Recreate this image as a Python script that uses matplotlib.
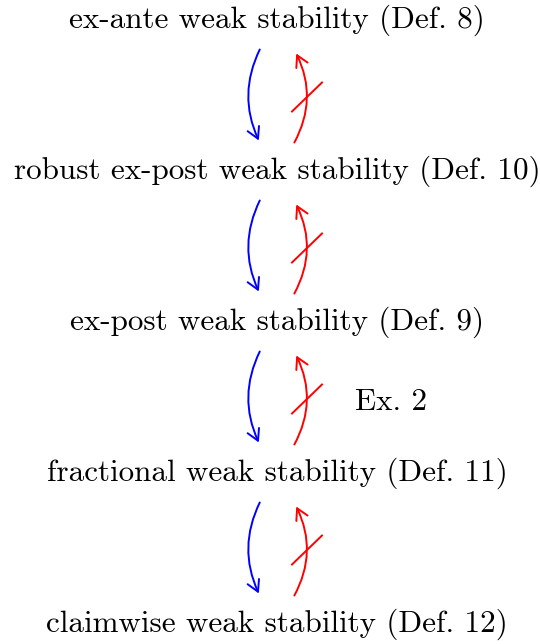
import matplotlib
matplotlib.use("Agg")
import matplotlib.pyplot as plt
from matplotlib.patches import FancyArrowPatch

labels = [
    "ex-ante weak stability (Def. 8)",
    "robust ex-post weak stability (Def. 10)",
    "ex-post weak stability (Def. 9)",
    "fractional weak stability (Def. 11)",
    "claimwise weak stability (Def. 12)",
]
note_text = "Ex. 2"
note_gap = 2  # between ex-post and fractional

W, H = 540, 644
fig = plt.figure(figsize=(W / 100, H / 100), dpi=100)
ax = fig.add_axes([0, 0, 1, 1])
ax.set_xlim(0, W)
ax.set_ylim(H, 0)
ax.axis("off")

font = dict(family="cmr10", fontsize=22.4)
cx = 277
y0, dy = 20, 151
ys = [y0 + i * dy for i in range(len(labels))]
for y, lab in zip(ys, labels):
    ax.text(cx, y, lab, ha="center", va="center", **font)

head = "->,head_length=0.8,head_width=0.45"
for i in range(len(labels) - 1):
    yt, yb = ys[i], ys[i + 1]
    blue = FancyArrowPatch((261, yt + 27), (260, yb - 28),
                           connectionstyle="arc3,rad=0.25",
                           arrowstyle=head,
                           mutation_scale=10, color="blue", lw=1.4)
    ax.add_patch(blue)
    red = FancyArrowPatch((293, yb - 26), (295, yt + 31),
                          connectionstyle="arc3,rad=0.27",
                          arrowstyle=head,
                          mutation_scale=10, color="red", lw=1.4)
    ax.add_patch(red)
    ym = (yt + yb) / 2
    ax.plot([292, 322], [ym + 16, ym - 13], color="red", lw=1.4)

ax.text(391, (ys[note_gap] + ys[note_gap + 1]) / 2 + 5, note_text,
        ha="center", va="center", **font)

fig.savefig("out.png", dpi=100)
